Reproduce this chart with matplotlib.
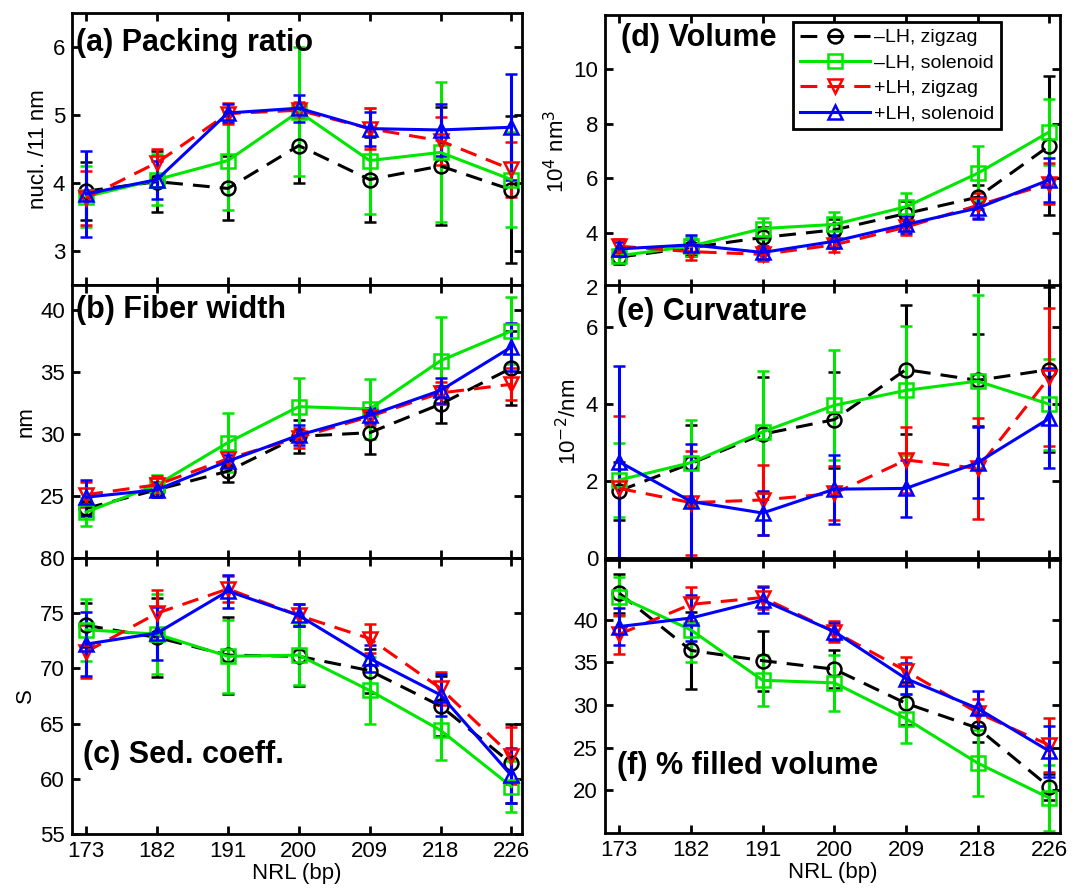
import numpy as np
import matplotlib
matplotlib.use("Agg")
import matplotlib.pyplot as plt
from matplotlib.lines import Line2D

plt.rcParams['font.family'] = ['Liberation Sans', 'DejaVu Sans']

nrl = [173, 182, 191, 200, 209, 218, 226]
series_labels = ["\u2013LH, zigzag", "\u2013LH, solenoid", "+LH, zigzag", "+LH, solenoid"]

# order of series in each list: -LH zigzag, -LH solenoid, +LH zigzag, +LH solenoid
packing = [[3.88, 4.02, 3.92, 4.55, 4.05, 4.25, 3.90],
           [3.80, 4.05, 4.33, 5.05, 4.33, 4.45, 4.05],
           [3.78, 4.30, 5.02, 5.07, 4.80, 4.62, 4.20],
           [3.84, 4.05, 5.03, 5.10, 4.80, 4.78, 4.82]]
packing_err = [[0.43, 0.45, 0.47, 0.55, 0.63, 0.87, 1.08],
               [0.45, 0.37, 0.72, 0.95, 0.78, 1.03, 0.70],
               [0.40, 0.20, 0.15, 0.12, 0.30, 0.35, 0.40],
               [0.63, 0.28, 0.13, 0.20, 0.25, 0.38, 0.78]]

width = [[24.0, 25.5, 27.0, 29.8, 30.1, 32.4, 35.3],
         [23.7, 25.9, 29.3, 32.2, 32.0, 35.9, 38.3],
         [25.1, 25.9, 28.0, 29.7, 31.4, 33.3, 34.0],
         [24.9, 25.5, 27.8, 29.9, 31.5, 33.5, 37.0]]
width_err = [[0.6, 0.5, 0.9, 1.3, 1.7, 1.5, 3.0],
             [1.1, 0.8, 2.4, 2.3, 2.4, 3.5, 2.7],
             [1.0, 0.7, 0.6, 0.8, 0.7, 0.9, 1.3],
             [1.4, 0.6, 0.5, 0.8, 0.6, 1.0, 1.9]]

sedim = [[73.9, 72.8, 71.2, 71.1, 69.8, 66.6, 61.4],
         [73.5, 73.1, 71.1, 71.2, 68.0, 64.4, 59.3],
         [71.5, 75.0, 77.2, 74.8, 72.7, 68.2, 62.1],
         [72.2, 73.2, 77.0, 74.8, 70.9, 67.6, 60.3]]
sedim_err = [[2.0, 3.6, 3.5, 2.7, 2.0, 2.7, 3.6],
             [2.8, 3.6, 3.3, 2.7, 3.0, 2.7, 2.3],
             [2.4, 2.1, 1.2, 1.0, 1.3, 1.5, 2.6],
             [2.9, 2.4, 1.5, 1.0, 1.2, 1.9, 2.5]]

volume = [[3.10, 3.45, 3.82, 4.10, 4.70, 5.30, 7.19],
          [3.15, 3.50, 4.15, 4.30, 4.95, 6.18, 7.70],
          [3.50, 3.30, 3.20, 3.55, 4.20, 5.00, 5.80],
          [3.40, 3.55, 3.27, 3.68, 4.30, 4.90, 5.94]]
volume_err = [[0.25, 0.30, 0.40, 0.40, 0.45, 0.45, 2.55],
              [0.25, 0.35, 0.40, 0.45, 0.50, 1.00, 1.20],
              [0.25, 0.30, 0.25, 0.25, 0.30, 0.45, 0.75],
              [0.25, 0.35, 0.25, 0.25, 0.30, 0.40, 0.80]]

curvature = [[1.75, 2.46, 3.22, 3.60, 4.90, 4.62, 4.90],
             [2.03, 2.48, 3.28, 3.97, 4.36, 4.60, 4.00],
             [1.81, 1.44, 1.51, 1.68, 2.55, 2.33, 4.70],
             [2.50, 1.47, 1.17, 1.79, 1.81, 2.48, 3.63]]
curvature_err = [[0.75, 1.00, 1.50, 1.25, 1.67, 1.20, 2.15],
                 [0.97, 1.12, 1.58, 1.43, 1.68, 2.25, 1.18],
                 [1.88, 1.35, 0.90, 0.70, 0.86, 1.32, 1.80],
                 [2.50, 1.49, 0.58, 0.90, 0.74, 0.93, 1.30]]

filled = [[43.1, 36.4, 35.2, 34.2, 30.2, 27.3, 20.4],
          [42.7, 38.8, 32.9, 32.6, 28.4, 23.2, 19.1],
          [38.3, 41.8, 42.6, 38.6, 34.0, 29.1, 25.3],
          [39.2, 40.2, 42.3, 38.6, 33.1, 29.6, 24.6]]
filled_err = [[2.3, 4.5, 3.5, 2.2, 2.5, 1.6, 1.5],
              [2.3, 3.7, 3.0, 3.3, 2.9, 3.9, 3.9],
              [2.3, 2.0, 1.4, 1.2, 1.6, 1.6, 3.2],
              [2.2, 2.7, 1.5, 1.0, 1.8, 2.0, 3.0]]

colors = ["black", "#00e600", "#ff0000", "#0000ff"]
markers = ["o", "s", "v", "^"]
dashed = [True, False, True, False]
FS = 16

W, H = 1081, 893
fig = plt.figure(figsize=(W / 100, H / 100), dpi=100)


def px_axes(x0, x1, y0, y1):
    return fig.add_axes([x0 / W, 1 - y1 / H, (x1 - x0) / W, (y1 - y0) / H])


def line_style(k):
    return (0, (5.5, 3.3)) if dashed[k] else "-"


def draw_panel(ax, means, errs, ylim, yticks, ylabel, title, tpos, xlabels):
    x = np.arange(len(nrl))
    for k in range(4):
        ax.errorbar(x, means[k], yerr=errs[k], color=colors[k], ls=line_style(k), lw=2.2,
                    marker=markers[k], ms=10, mfc="none", mec=colors[k], mew=1.8,
                    elinewidth=2.2, capsize=4, capthick=2.2)
    ax.set_xlim(-0.2, 6.15)
    ax.set_ylim(*ylim)
    ax.set_yticks(yticks)
    ax.set_xticks(x)
    if xlabels:
        ax.set_xticklabels([str(v) for v in nrl])
        ax.set_xlabel("NRL (bp)", fontsize=FS, labelpad=1)
    else:
        ax.set_xticklabels([])
    if ylabel:
        ax.set_ylabel(ylabel, fontsize=FS, labelpad=3)
    ax.tick_params(direction="in", length=6, width=2, top=True, right=True,
                   labelsize=FS, pad=5)
    for s in ax.spines.values():
        s.set_linewidth(2)
    ax.text(tpos[0], tpos[1], title, transform=ax.transAxes, fontsize=22,
            fontweight="bold", ha="left", va="center")


lx0, lx1 = 72, 522
rx0, rx1 = 605, 1060

ax_a = px_axes(lx0, lx1, 13, 285)
ax_b = px_axes(lx0, lx1, 285, 558)
ax_c = px_axes(lx0, lx1, 558, 834)
ax_d = px_axes(rx0, rx1, 15, 287)
ax_e = px_axes(rx0, rx1, 285, 558)
ax_f = px_axes(rx0, rx1, 560, 833)

draw_panel(ax_a, packing, packing_err, (2.5, 6.5), [3, 4, 5, 6], "nucl. /11 nm",
           "(a) Packing ratio", (0.01, 0.89), False)
draw_panel(ax_b, width, width_err, (20, 42), [25, 30, 35, 40], "nm",
           "(b) Fiber width", (0.01, 0.91), False)
draw_panel(ax_c, sedim, sedim_err, (55, 80), [55, 60, 65, 70, 75, 80], "S",
           "(c) Sed. coeff.", (0.025, 0.286), True)
draw_panel(ax_d, volume, volume_err, (2, 12), [2, 4, 6, 8, 10], "10$^4$ nm$^3$",
           "(d) Volume", (0.035, 0.915), False)
draw_panel(ax_e, curvature, curvature_err, (0, 7.1), [0, 2, 4, 6], "10$^{-2}$/nm",
           "(e) Curvature", (0.027, 0.90), False)
draw_panel(ax_f, filled, filled_err, (15, 47), [20, 25, 30, 35, 40], None,
           "(f) % filled volume", (0.027, 0.245), True)

handles = [Line2D([], [], color=colors[k], ls=line_style(k), lw=2.2, marker=markers[k],
                  ms=10, mfc="none", mec=colors[k], mew=1.8) for k in range(4)]
leg = ax_d.legend(handles, series_labels, loc="upper right",
                  bbox_to_anchor=(0.870, 0.974), borderaxespad=0,
                  fontsize=14, handlelength=3.6, handletextpad=0.2,
                  labelspacing=0.4, borderpad=0.35, fancybox=False,
                  framealpha=1, edgecolor="black")
leg.get_frame().set_linewidth(2)

plt.savefig("out.png", dpi=100)
